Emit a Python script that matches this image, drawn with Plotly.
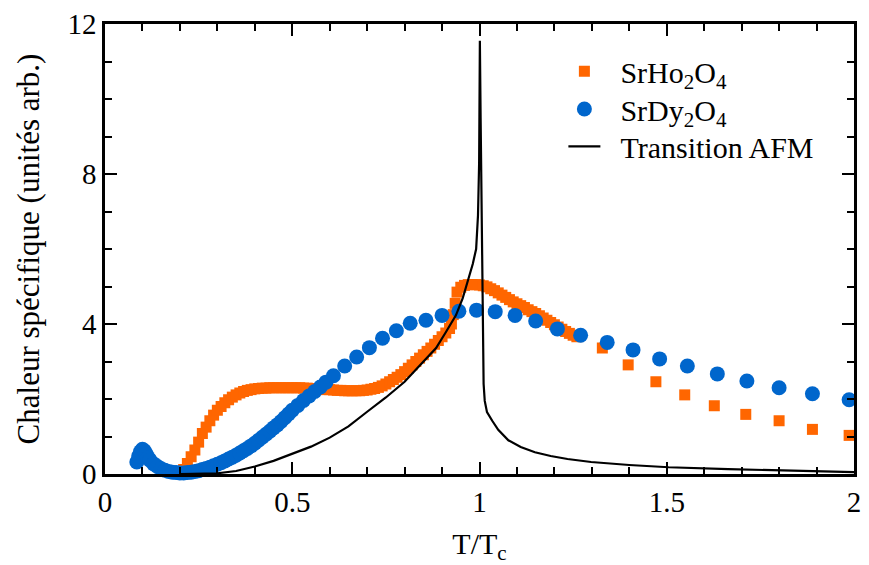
import plotly.graph_objects as go

# SrHo2O4 (orange squares)
ho_x = [0.21, 0.22, 0.23, 0.24, 0.25, 0.26, 0.27, 0.28, 0.29, 0.30,
        0.31, 0.32, 0.33, 0.34, 0.35, 0.36, 0.37, 0.38, 0.39, 0.40,
        0.41, 0.42, 0.43, 0.44, 0.45, 0.46, 0.47, 0.48, 0.49, 0.50,
        0.51, 0.52, 0.53, 0.54, 0.55, 0.56, 0.57, 0.58, 0.59, 0.60,
        0.61, 0.62, 0.63, 0.64, 0.65, 0.66, 0.67, 0.68, 0.69, 0.70,
        0.71, 0.72, 0.73, 0.74, 0.75, 0.76, 0.77, 0.78, 0.79, 0.80,
        0.81, 0.82, 0.83, 0.84, 0.85, 0.86, 0.87, 0.88, 0.89, 0.90,
        0.91, 0.92, 0.925, 0.93, 0.935, 0.94, 0.95, 0.96, 0.97, 0.98,
        0.99, 1.00, 1.01, 1.02, 1.03, 1.04, 1.05, 1.06, 1.07, 1.08,
        1.09, 1.10, 1.11, 1.12, 1.13, 1.14, 1.15, 1.16, 1.17, 1.18,
        1.19, 1.20, 1.21, 1.22, 1.23, 1.24, 1.25, 1.26,
        1.328, 1.397, 1.471, 1.548, 1.627, 1.711, 1.80, 1.889, 1.987]
ho_y = [0.12, 0.28, 0.46, 0.64, 0.85, 1.08, 1.25, 1.42, 1.57, 1.70,
        1.80, 1.90, 1.98, 2.05, 2.11, 2.16, 2.20, 2.23, 2.25, 2.27,
        2.28, 2.29, 2.29, 2.30, 2.30, 2.30, 2.30, 2.30, 2.30, 2.30,
        2.30, 2.30, 2.29, 2.29, 2.28, 2.28, 2.27, 2.26, 2.25, 2.25,
        2.24, 2.23, 2.23, 2.22, 2.22, 2.22, 2.22, 2.22, 2.23, 2.24,
        2.26, 2.28, 2.31, 2.35, 2.40, 2.46, 2.52, 2.58, 2.65, 2.73,
        2.82, 2.91, 3.00, 3.09, 3.18, 3.27, 3.36, 3.46, 3.56, 3.66,
        3.76, 3.88, 4.00, 4.25, 4.55, 4.85, 4.98, 5.03, 5.05, 5.05,
        5.05, 5.04, 5.02, 4.99, 4.94, 4.89, 4.83, 4.77, 4.71, 4.65,
        4.59, 4.54, 4.49, 4.44, 4.38, 4.33, 4.28, 4.22, 4.16, 4.10,
        4.04, 3.98, 3.92, 3.86, 3.80, 3.75, 3.70, 3.66,
        3.36, 2.91, 2.46, 2.11, 1.82, 1.59, 1.42, 1.19, 1.03]

# SrDy2O4 (blue circles)
dy_x = [0.085, 0.09, 0.095, 0.10, 0.105, 0.11, 0.115, 0.12, 0.13, 0.14,
        0.15, 0.16, 0.17, 0.18, 0.19, 0.20, 0.21, 0.22, 0.23, 0.24,
        0.25, 0.26, 0.27, 0.28, 0.29, 0.30, 0.31, 0.32, 0.33, 0.34,
        0.35, 0.36, 0.37, 0.38, 0.39, 0.40, 0.41, 0.42, 0.43, 0.44,
        0.45, 0.46, 0.47, 0.48, 0.49, 0.50, 0.515, 0.53, 0.545, 0.56,
        0.575, 0.59, 0.61, 0.64, 0.672, 0.706, 0.741, 0.778, 0.815, 0.857,
        0.90, 0.945, 0.992, 1.042, 1.095, 1.15, 1.208, 1.27, 1.341, 1.41,
        1.481, 1.555, 1.635, 1.714, 1.80, 1.889, 1.987]
dy_y = [0.32, 0.48, 0.60, 0.66, 0.62, 0.53, 0.44, 0.37, 0.27, 0.20,
        0.14, 0.10, 0.07, 0.05, 0.04, 0.03, 0.03, 0.04, 0.05, 0.07,
        0.09, 0.12, 0.15, 0.18, 0.22, 0.26, 0.30, 0.35, 0.40, 0.45,
        0.50, 0.56, 0.62, 0.68, 0.75, 0.82, 0.90, 0.98, 1.06, 1.14,
        1.23, 1.31, 1.40, 1.50, 1.60, 1.70, 1.83, 1.96, 2.08, 2.20,
        2.32, 2.45, 2.62, 2.88, 3.12, 3.37, 3.62, 3.82, 4.02, 4.10,
        4.23, 4.34, 4.37, 4.33, 4.23, 4.08, 3.87, 3.70, 3.51, 3.31,
        3.07, 2.88, 2.67, 2.48, 2.30, 2.14, 1.98]

# Transition AFM (black line)
afm_x = [0.20, 0.25, 0.30, 0.35, 0.40, 0.45, 0.50, 0.55, 0.60, 0.65,
         0.70, 0.75, 0.80, 0.85, 0.884, 0.91, 0.937, 0.955, 0.971, 0.982,
         0.991, 0.996, 0.999, 1.001, 1.003, 1.005, 1.006, 1.007, 1.008, 1.009,
         1.011, 1.014, 1.020, 1.034, 1.050, 1.077, 1.110, 1.148, 1.190, 1.235,
         1.298, 1.400, 1.505, 1.664, 1.840, 2.000]
afm_y = [0.00, 0.00, 0.02, 0.08, 0.20, 0.35, 0.53, 0.73, 0.97, 1.27,
         1.66, 2.04, 2.46, 2.98, 3.36, 3.78, 4.23, 4.68, 5.20, 5.60,
         6.00, 6.90, 8.30, 11.55, 9.50, 7.80, 6.50, 5.20, 4.00, 3.00,
         2.40, 1.95, 1.65, 1.42, 1.18, 0.90, 0.72, 0.58, 0.48, 0.40,
         0.32, 0.24, 0.18, 0.13, 0.08, 0.05]

x_ticks = [0, 0.5, 1, 1.5, 2]
x_labels = ["0", "0.5", "1", "1.5", "2"]
y_ticks = [0, 4, 8, 12]
y_labels = ["0", "4", "8", "12"]

FONT = "Liberation Serif"
PAD = "\u00a0\u00a0"

fig = go.Figure()
fig.add_trace(go.Scatter(
    x=ho_x, y=ho_y, mode="markers", name=PAD + "SrHo<sub>2</sub>O<sub>4</sub>",
    marker=dict(symbol="square", size=11, color="#FF6600", line=dict(width=0)),
    cliponaxis=False, legend="legend",
))
fig.add_trace(go.Scatter(
    x=dy_x, y=dy_y, mode="markers", name=PAD + "SrDy<sub>2</sub>O<sub>4</sub>",
    marker=dict(symbol="circle", size=15, color="#0066CC", line=dict(width=0)),
    cliponaxis=False, legend="legend2",
))
fig.add_trace(go.Scatter(
    x=afm_x, y=afm_y, mode="lines", name=PAD + "Transition AFM",
    line=dict(color="black", width=2.2), legend="legend3",
))

axis_common = dict(
    showgrid=False, zeroline=False, showline=True, linecolor="black", linewidth=2.5,
    mirror="ticks", ticks="inside", tickcolor="black", tickwidth=2,
    tickfont=dict(family=FONT, size=29, color="black"),
)

fig.update_xaxes(
    range=[0, 2], tickvals=x_ticks, ticktext=x_labels, ticklen=12,
    minor=dict(ticks="inside", dtick=0.1, ticklen=7, tickwidth=2, tickcolor="black", showgrid=False),
    title=dict(text="T/T<sub>c</sub>", font=dict(family=FONT, size=30, color="black"), standoff=18),
    **axis_common,
)
fig.update_yaxes(
    range=[0, 12], tickvals=y_ticks, ticktext=y_labels, ticklen=12,
    minor=dict(ticks="inside", dtick=1, ticklen=7, tickwidth=2, tickcolor="black", showgrid=False),
    title=dict(text="Chaleur spécifique (unités arb.)", font=dict(family=FONT, size=31, color="black"), standoff=19),
    **axis_common,
)

leg_common = dict(
    xanchor="left", yanchor="middle", bgcolor="rgba(0,0,0,0)", borderwidth=0,
    font=dict(family=FONT, size=30, color="black"), itemwidth=32,
)
fig.update_layout(
    width=869, height=565,
    margin=dict(l=105, r=8, t=23, b=88),
    paper_bgcolor="white", plot_bgcolor="white",
    font=dict(family=FONT, color="black"),
    showlegend=True,
    legend=dict(x=0.612, y=0.895, **leg_common),
    legend2=dict(x=0.612, y=0.811, **leg_common),
    legend3=dict(x=0.612, y=0.728, **leg_common),
)

fig.write_html("out.html")
